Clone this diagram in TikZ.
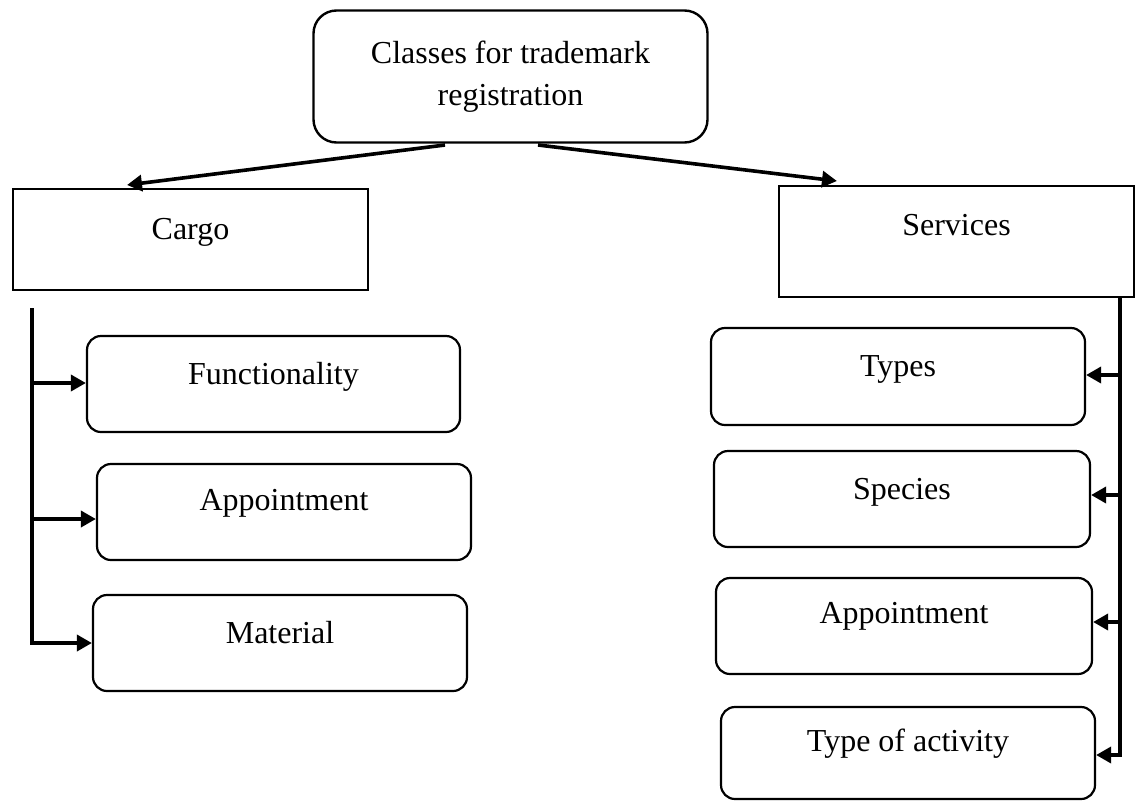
\documentclass[tikz,border=0pt]{standalone}
\usepackage{fontspec}
\setmainfont{Liberation Serif}
\usetikzlibrary{arrows.meta}
\tikzset{
  sqbox/.style={draw, line width=2.4pt, inner sep=0pt, font=\fontsize{32}{40}\selectfont},
  rbox/.style={draw, line width=2.2pt, rounded corners=14pt, inner sep=0pt, font=\fontsize{32}{40}\selectfont},
  topbox/.style={draw, line width=2.4pt, rounded corners=23pt, inner sep=0pt, align=center, font=\fontsize{32}{42}\selectfont},
  conn/.style={line width=3.6pt},
  arr/.style={line width=3.6pt, -{Triangle[length=15pt,width=16pt]}},
}
\begin{document}
\begin{tikzpicture}[x=1pt,y=-1pt]
\useasboundingbox (0,0) rectangle (1138,801);
% top
\node[topbox, minimum width=394pt, minimum height=132pt] (top) at (510.5,76.5) {Classes for trademark\\registration};
% level 2
\node[sqbox, minimum width=355pt, minimum height=101pt] (cargo) at (190.5,239.5) {\smash{Cargo}};
\node[sqbox, minimum width=355pt, minimum height=111pt] (serv) at (956.5,241.5) {\smash{\raisebox{6pt}{Services}}};
% left children
\node[rbox, minimum width=373pt, minimum height=96pt] (func) at (273.5,384) {\smash{Functionality}};
\node[rbox, minimum width=374pt, minimum height=96pt] (app1) at (284,512) {\smash{\raisebox{2pt}{Appointment}}};
\node[rbox, minimum width=374pt, minimum height=96pt] (mat) at (280,643) {\smash{Material}};
% right children
\node[rbox, minimum width=374pt, minimum height=97pt] (types) at (898,376.5) {\smash{Types}};
\node[rbox, minimum width=376pt, minimum height=96pt] (spec) at (902,499) {\smash{Species}};
\node[rbox, minimum width=376pt, minimum height=96pt] (app2) at (904,626) {\smash{\raisebox{3pt}{Appointment}}};
\node[rbox, minimum width=374pt, minimum height=92pt] (act) at (908,753) {\smash{\raisebox{2pt}{Type of activity}}};
% top arrows
\coordinate (tl) at (445,145);
\coordinate (tr) at (538,145);
\coordinate (cl) at (127,185);
\coordinate (sr) at (837,181);
\draw[arr] (tl) -- (cl);
\draw[arr] (tr) -- (sr);
% left bus
\coordinate (lt) at (32,308);
\coordinate (l1) at (32,383);
\coordinate (l2) at (32,519);
\coordinate (l3) at (32,643);
\draw[conn] (lt) -- (l3);
\draw[arr] (l1) -- (func.west |- l1);
\draw[arr] (l2) -- (app1.west |- l2);
\draw[arr] ([xshift=-1.8pt]l3) -- (mat.west |- l3);
% right bus
\coordinate (rt) at (1120,298);
\coordinate (r1) at (1120,375);
\coordinate (r2) at (1120,495);
\coordinate (r3) at (1120,622);
\coordinate (r4) at (1120,755);
\draw[conn] (rt) -- (r4);
\draw[arr] (r1) -- (types.east |- r1);
\draw[arr] (r2) -- (spec.east |- r2);
\draw[arr] (r3) -- (app2.east |- r3);
\draw[arr] ([xshift=1.8pt]r4) -- (act.east |- r4);
\end{tikzpicture}
\end{document}
